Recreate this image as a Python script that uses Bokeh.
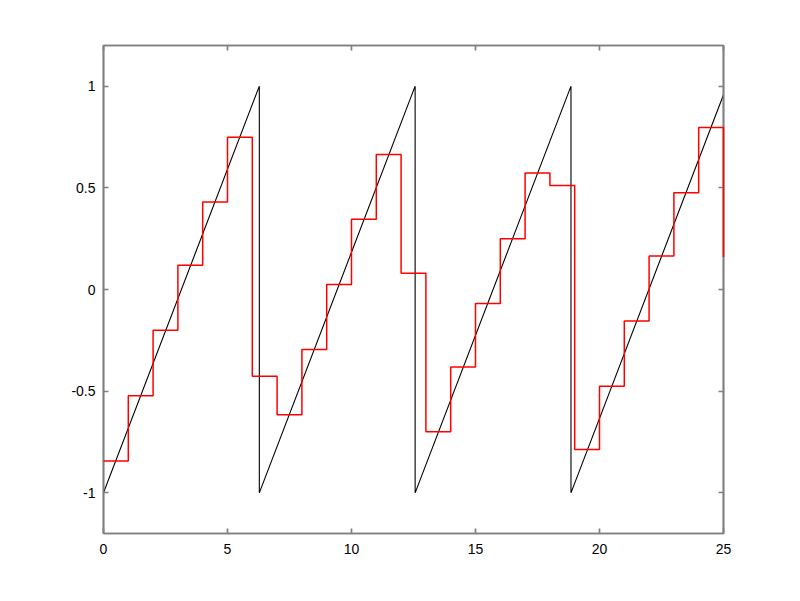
from bokeh.plotting import figure
from bokeh.models import LinearAxis, FixedTicker, NumeralTickFormatter, CustomJSTickFormatter, Range1d
from bokeh.embed import file_html
from bokeh.resources import INLINE

# sawtooth (black) corner points
saw_t = [0, 6.283, 6.283, 12.566, 12.566, 18.850, 18.850, 25]
saw_y = [-1, 1, -1, 1, -1, 1, -1, 0.958]

# held samples (red), one per integer t = 0..25
held_t = list(range(26))
held_y = [-0.843, -0.523, -0.200, 0.119, 0.430, 0.749, -0.427, -0.616, -0.295, 0.024,
          0.345, 0.664, 0.080, -0.700, -0.381, -0.069, 0.250, 0.573, 0.512, -0.787,
          -0.476, -0.155, 0.165, 0.476, 0.797, 0.160]

x_ticks = [0, 5, 10, 15, 20, 25]
y_ticks = [-1, -0.5, 0, 0.5, 1]

axis_col = "#808080"
font = "Liberation Sans"

# zero-order hold path: each sample held until the next one
hold_x, hold_y = [], []
for i in range(len(held_t) - 1):
    hold_x += [held_t[i], held_t[i + 1]]
    hold_y += [held_y[i], held_y[i]]
hold_x.append(held_t[-1])
hold_y.append(held_y[-1])

p = figure(width=796, height=597, output_backend="svg", toolbar_location=None,
           x_range=Range1d(0, 25), y_range=Range1d(-1.2, 1.2),
           min_border_left=103, min_border_right=73, min_border_top=45, min_border_bottom=64)
p.grid.visible = False
p.outline_line_color = axis_col
p.outline_line_width = 1.7
p.background_fill_color = "white"
p.border_fill_color = "white"

p.line(saw_t, saw_y, line_color="black", line_width=1.1)
# red drawn above the axes so the final drop at t=25 shows over the frame
p.line(hold_x, hold_y, line_color="#ff0000", line_width=1.5, level="annotation")

def style(ax, ticks, labels=True):
    ax.ticker = FixedTicker(ticks=ticks)
    ax.axis_line_color = axis_col
    ax.axis_line_width = 1.7
    ax.major_tick_line_color = axis_col
    ax.major_tick_line_width = 1.7
    ax.major_tick_in = 5
    ax.major_tick_out = 0
    ax.minor_tick_line_color = None
    ax.major_label_text_font = font
    ax.major_label_text_font_size = "14px"
    ax.major_label_text_color = "black"
    if not labels:
        ax.formatter = CustomJSTickFormatter(code="return ''")
        ax.major_label_standoff = 0

style(p.xaxis[0], x_ticks)
style(p.yaxis[0], y_ticks)
p.xaxis[0].major_label_standoff = 10
p.yaxis[0].major_label_standoff = 8
p.yaxis[0].formatter = NumeralTickFormatter(format="0.[0]")

top = LinearAxis()
style(top, x_ticks, labels=False)
p.add_layout(top, "above")
right = LinearAxis()
style(right, y_ticks, labels=False)
p.add_layout(right, "right")

open("out.html", "w").write(file_html(p, INLINE))
